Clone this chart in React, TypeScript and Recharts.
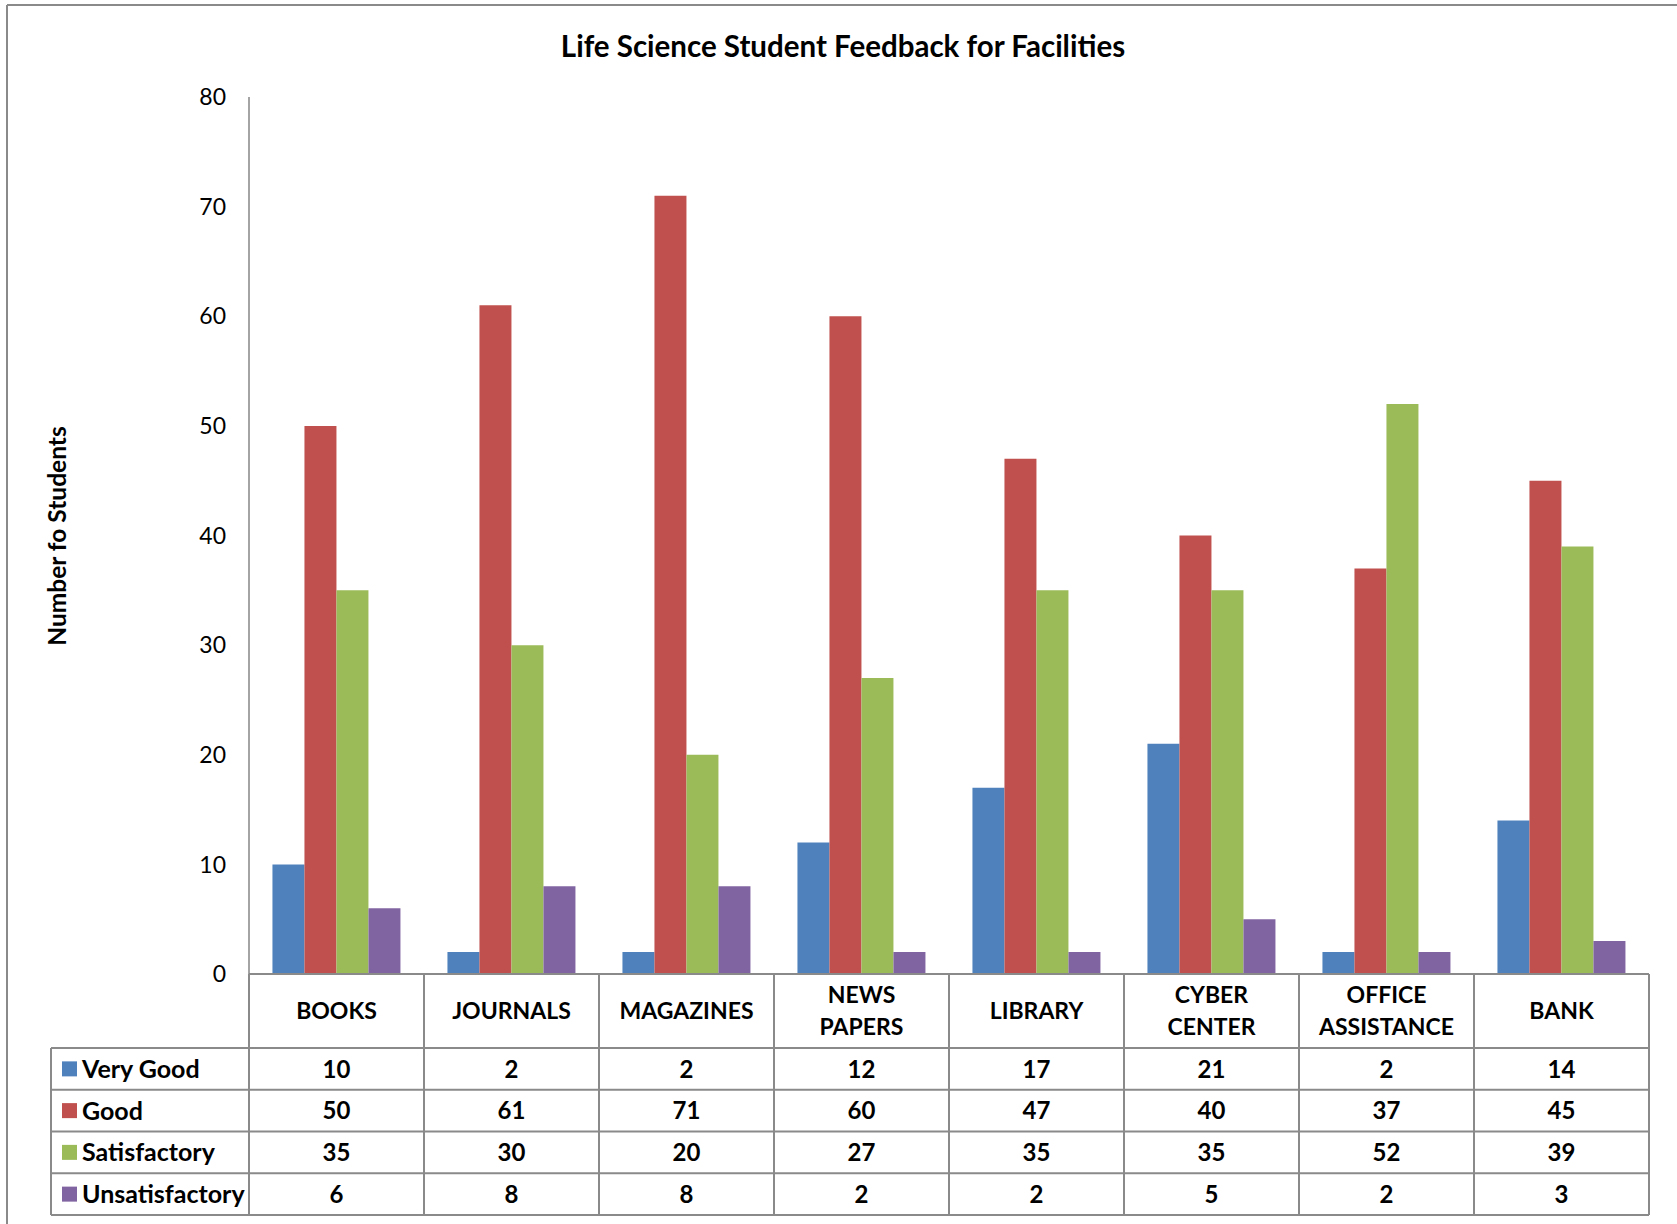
import React from "react";
import { Bar, BarChart, XAxis, YAxis } from "recharts";

const categories = [
  "BOOKS",
  "JOURNALS",
  "MAGAZINES",
  "NEWS\nPAPERS",
  "LIBRARY",
  "CYBER\nCENTER",
  "OFFICE\nASSISTANCE",
  "BANK",
];
const veryGood = [10, 2, 2, 12, 17, 21, 2, 14];
const good = [50, 61, 71, 60, 47, 40, 37, 45];
const satisfactory = [35, 30, 20, 27, 35, 35, 52, 39];
const unsatisfactory = [6, 8, 8, 2, 2, 5, 2, 3];
const seriesNames = ["Very Good", "Good", "Satisfactory", "Unsatisfactory"];
const seriesKeys = ["vg", "g", "s", "u"];
const seriesColors = ["#4F81BD", "#C0504D", "#9BBB59", "#8064A2"];
const yTicks = [0, 10, 20, 30, 40, 50, 60, 70, 80];

const seriesValues = [veryGood, good, satisfactory, unsatisfactory];

const data = categories.map((name, i) => ({
  name,
  vg: veryGood[i],
  g: good[i],
  s: satisfactory[i],
  u: unsatisfactory[i],
}));

// layout (px, full size)
const W = 1677;
const H = 1224;
const PLOT_LEFT = 249;
const PLOT_TOP = 97;
const PLOT_RIGHT = 1649;
const PLOT_BOTTOM = 974;
const HEADER_BOTTOM = 1048;
const TABLE_BOTTOM = 1215;
const LEGEND_LEFT = 51;
const ROW_H = (TABLE_BOTTOM - HEADER_BOTTOM) / 4;
const BAND = (PLOT_RIGHT - PLOT_LEFT) / categories.length;
const LINE = "#8a8a8a";
const FONT = "Lato, 'Open Sans', sans-serif";

function TableColumn(props: any) {
  const { x, index, payload } = props;
  const left = x - BAND / 2;
  const lines = String(payload.value).split("\n");
  const headerMid = (PLOT_BOTTOM + HEADER_BOTTOM) / 2;
  return (
    <g>
      <line x1={left} x2={left} y1={PLOT_BOTTOM} y2={TABLE_BOTTOM} stroke={LINE} strokeWidth={2} />
      {index === categories.length - 1 ? (
        <line x1={left + BAND} x2={left + BAND} y1={PLOT_BOTTOM} y2={TABLE_BOTTOM} stroke={LINE} strokeWidth={2} />
      ) : null}
      {lines.map((l, k) => (
        <text
          key={k}
          x={x}
          y={headerMid + (k - (lines.length - 1) / 2) * 32}
          dy="0.36em"
          textAnchor="middle"
          fontFamily={FONT}
          fontWeight="bold"
          fontSize={23}
          fill="#000"
        >
          {l}
        </text>
      ))}
      {seriesValues.map((vals, r) => (
        <text
          key={r}
          x={x}
          y={HEADER_BOTTOM + ROW_H * (r + 0.5)}
          dy="0.36em"
          textAnchor="middle"
          fontFamily={FONT}
          fontWeight="bold"
          fontSize={24}
          fill="#000"
        >
          {vals[index]}
        </text>
      ))}
    </g>
  );
}

export default function App() {
  return (
    <div style={{ position: "absolute", left: 0, top: 0, width: W, height: H, background: "#fff" }}>
      <BarChart
        width={W}
        height={H}
        data={data}
        margin={{ top: PLOT_TOP, right: W - PLOT_RIGHT, left: 0, bottom: H - TABLE_BOTTOM }}
        barCategoryGap="13.4%"
        barGap={0}
      >
        <XAxis
          dataKey="name"
          height={TABLE_BOTTOM - PLOT_BOTTOM}
          interval={0}
          tickLine={false}
          tickSize={0}
          tickMargin={0}
          axisLine={{ stroke: LINE, strokeWidth: 2 }}
          tick={TableColumn}
        />
        <YAxis
          width={PLOT_LEFT}
          domain={[0, 80]}
          ticks={yTicks}
          interval={0}
          tickLine={false}
          tickSize={0}
          tickMargin={23}
          axisLine={{ stroke: "#868686", strokeWidth: 1.5 }}
          tick={{ fill: "#000", fontSize: 23, fontFamily: FONT }}
        />
        {seriesKeys.map((k, i) => (
          <Bar key={k} dataKey={k} name={seriesNames[i]} fill={seriesColors[i]} isAnimationActive={false} />
        ))}
      </BarChart>
      <svg
        width={W}
        height={H}
        style={{ position: "absolute", left: 0, top: 0, pointerEvents: "none" }}
      >
        <line x1={7} x2={7} y1={5} y2={H} stroke={LINE} strokeWidth={2} />
        <line x1={7} x2={W} y1={5} y2={5} stroke={LINE} strokeWidth={2} />
        <text
          x={843}
          y={46}
          dy="0.36em"
          textAnchor="middle"
          fontFamily={FONT}
          fontWeight="bold"
          fontSize={29.5}
          fill="#000"
        >
          Life Science Student Feedback for Facilities
        </text>
        <text
          x={57}
          y={536}
          dy="0.36em"
          transform="rotate(-90 57 536)"
          textAnchor="middle"
          fontFamily={FONT}
          fontWeight="bold"
          fontSize={24.5}
          fill="#000"
        >
          Number fo Students
        </text>
        {[0, 1, 2, 3, 4].map((k) => (
          <line
            key={k}
            x1={LEGEND_LEFT}
            x2={PLOT_RIGHT}
            y1={HEADER_BOTTOM + ROW_H * k}
            y2={HEADER_BOTTOM + ROW_H * k}
            stroke={LINE}
            strokeWidth={2}
          />
        ))}
        <line x1={LEGEND_LEFT} x2={LEGEND_LEFT} y1={HEADER_BOTTOM} y2={TABLE_BOTTOM} stroke={LINE} strokeWidth={2} />
        {seriesNames.map((n, r) => {
          const cy = HEADER_BOTTOM + ROW_H * (r + 0.5);
          return (
            <g key={n}>
              <rect x={62} y={cy - 7.5} width={15} height={15} fill={seriesColors[r]} />
              <text
                x={82}
                y={cy}
                dy="0.36em"
                fontFamily={FONT}
                fontWeight="bold"
                fontSize={25}
                fill="#000"
              >
                {n}
              </text>
            </g>
          );
        })}
      </svg>
    </div>
  );
}
